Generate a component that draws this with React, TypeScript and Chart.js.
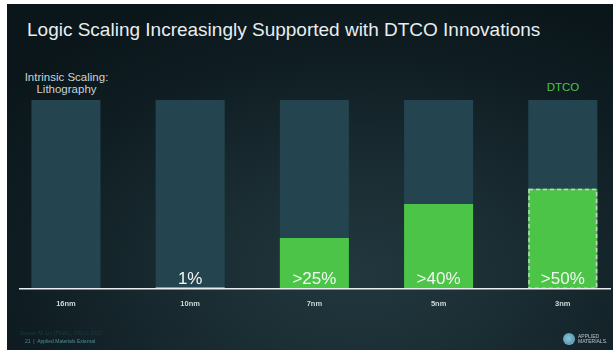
import React, { useEffect, useRef } from "react";
import { Chart, registerables } from "chart.js";

Chart.register(...registerables);

const categories = ["16nm", "10nm", "7nm", "5nm", "3nm"];
const totalScaling = [100, 100, 100, 100, 100];
const dtcoShare = [0, 1, 27, 45, 53];
const shareLabels = ["", "1%", ">25%", ">40%", ">50%"];
const projected = [false, false, false, false, true];

const FONT = "'Liberation Sans', Arial, Helvetica, sans-serif";

const barOverlay = {
  id: "barOverlay",
  afterDatasetsDraw(chart: any) {
    const ctx = chart.ctx;
    const meta = chart.getDatasetMeta(0);
    meta.data.forEach((bar: any, i: number) => {
      const p = bar.getProps(["x", "y", "base", "width"], true);
      if (projected[i]) {
        ctx.save();
        ctx.strokeStyle = "#c9d3cb";
        ctx.lineWidth = 1.5;
        ctx.setLineDash([4, 3]);
        ctx.strokeRect(p.x - p.width / 2 + 0.75, p.y + 0.75, p.width - 1.5, p.base - p.y - 1.5);
        ctx.restore();
      }
      if (shareLabels[i]) {
        ctx.save();
        ctx.fillStyle = "#f4f8f4";
        ctx.font = `17px ${FONT}`;
        ctx.textAlign = "center";
        ctx.textBaseline = "alphabetic";
        ctx.fillText(shareLabels[i], p.x, p.base - 5);
        ctx.restore();
      }
    });
  },
};

export default function App() {
  const ref = useRef<HTMLCanvasElement | null>(null);

  useEffect(() => {
    document.body.style.margin = "0";
    const canvas = ref.current;
    if (!canvas) return;
    const chart = new Chart(canvas, {
      type: "bar",
      data: {
        datasets: [
          {
            label: "DTCO",
            data: dtcoShare.map((v, i) => ({ x: i, y: v })),
            backgroundColor: "#4cc448",
            borderWidth: 0,
            order: 0,
            barPercentage: 1,
            categoryPercentage: 0.556,
            grouped: false,
          } as any,
          {
            label: "Intrinsic Scaling",
            data: totalScaling.map((v, i) => ({ x: i, y: v })),
            backgroundColor: "#24454f",
            borderWidth: 0,
            order: 1,
            barPercentage: 1,
            categoryPercentage: 0.556,
            grouped: false,
          } as any,
        ],
      },
      options: {
        animation: false,
        responsive: false,
        devicePixelRatio: 1,
        layout: { padding: { left: 20, right: 3, top: 100, bottom: 32 } },
        plugins: { legend: { display: false }, tooltip: { enabled: false } },
        scales: {
          x: {
            type: "linear",
            offset: false,
            min: -0.37,
            max: 4.38,
            grid: { display: false, drawTicks: false, offset: false },
            border: { display: true, color: "#e9eff0", width: 1.5, z: 1 },
            afterBuildTicks: (scale: any) => {
              scale.ticks = categories.map((_, i) => ({ value: i }));
            },
            ticks: {
              color: "#cfd7d9",
              font: { family: FONT, size: 7.5, weight: "bold" },
              padding: 10,
              autoSkip: false,
              maxRotation: 0,
              callback: (v: any) => categories[v as number] ?? "",
            },
          },
          y: { display: false, min: 0, max: 100 },
        },
      },
      plugins: [barOverlay],
    });
    return () => chart.destroy();
  }, []);

  const abs = (s: any) => ({ position: "absolute" as const, fontFamily: FONT, whiteSpace: "nowrap" as const, ...s });

  return (
    <div style={{ position: "relative", width: 613, height: 350, overflow: "hidden", background: "#ffffff" }}>
      <div
        style={{
          position: "absolute",
          left: 7,
          top: 4,
          width: 606,
          height: 346,
          background:
            "radial-gradient(ellipse 75% 85% at 58% 78%, #22373e 0%, #1a2d33 35%, #0f1d22 75%, #0a161a 100%)",
        }}
      />
      <div style={abs({ left: 27, top: 20, fontSize: 19, lineHeight: "19px", color: "#e8eef0" })}>
        Logic Scaling Increasingly Supported with DTCO Innovations
      </div>
      <div style={abs({ left: 0, width: 133, top: 70.5, fontSize: 11.5, lineHeight: "12.7px", color: "#c9d3d6", textAlign: "center" })}>
        Intrinsic Scaling:
        <br />
        Lithography
      </div>
      <div style={abs({ left: 513, width: 100, top: 80.7, fontSize: 11.5, lineHeight: "12.7px", color: "#4cc448", textAlign: "center" })}>
        DTCO
      </div>
      <canvas ref={ref} width={613} height={350} style={{ position: "absolute", left: 0, top: 0, width: 613, height: 350 }} />
      <div style={abs({ left: 20, top: 330, fontSize: 5, lineHeight: "6px", color: "#1f3a41" })}>
        Source: M. Liu (TSMC), ISSCC 2021
      </div>
      <div style={abs({ left: 25, top: 337.5, fontSize: 5, lineHeight: "6px", color: "#4d8f99" })}>
        21 &nbsp;|&nbsp; Applied Materials External
      </div>
      <div
        style={{
          position: "absolute",
          left: 563,
          top: 333,
          width: 12,
          height: 12,
          borderRadius: "50%",
          background: "radial-gradient(circle at 45% 45%, #8fc3d6 0%, #5c9fba 60%, #d8e6ea 100%)",
        }}
      />
      <div style={abs({ left: 578, top: 333.5, fontSize: 5, lineHeight: "5.5px", color: "#b8c6ca" })}>
        APPLIED
        <br />
        MATERIALS.
      </div>
    </div>
  );
}
